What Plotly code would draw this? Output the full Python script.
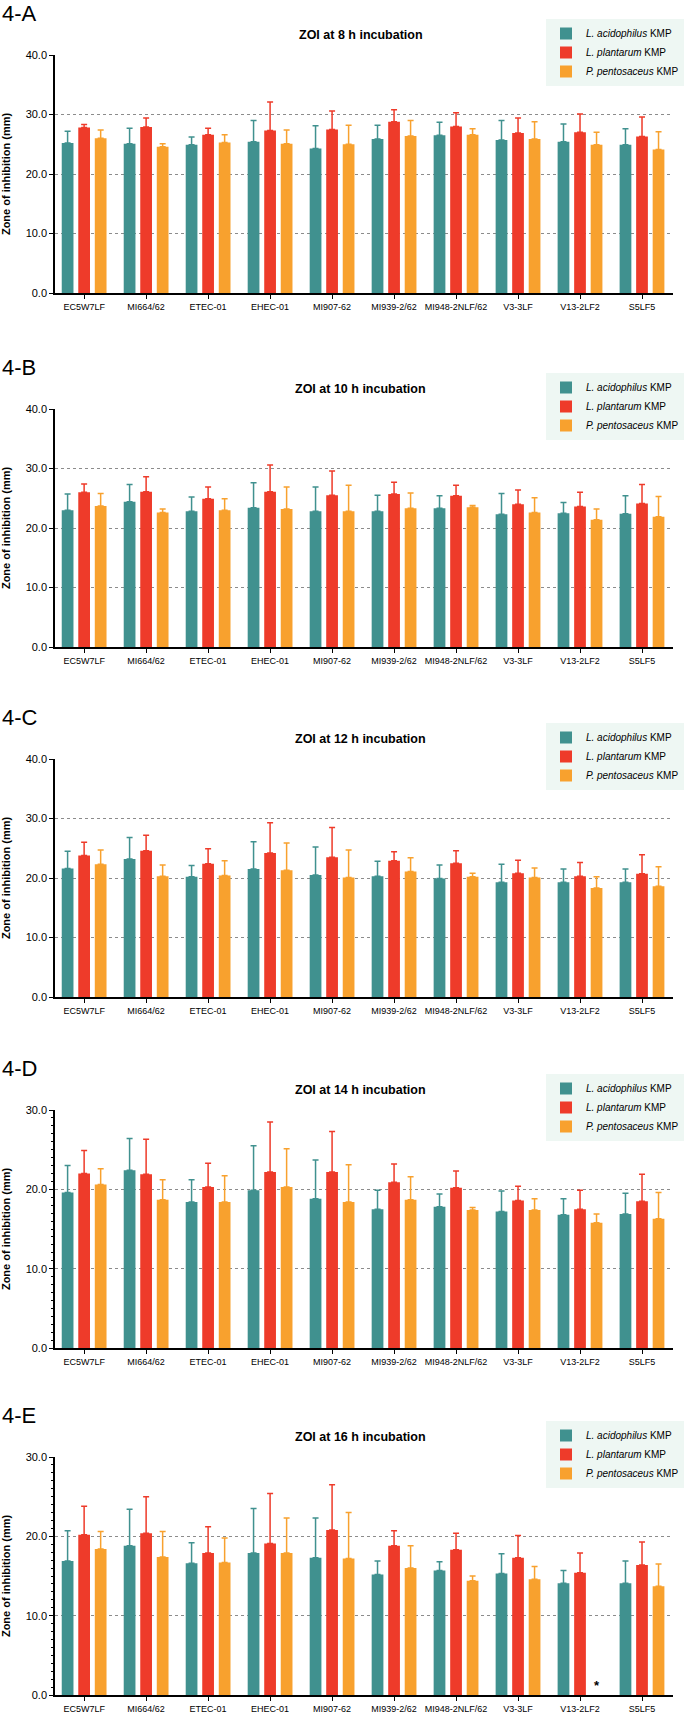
import plotly.graph_objects as go
from plotly.subplots import make_subplots

# ---------------- data ----------------
categories = ["EC5W7LF", "MI664/62", "ETEC-01", "EHEC-01", "MI907-62",
              "MI939-2/62", "MI948-2NLF/62", "V3-3LF", "V13-2LF2", "S5LF5"]
series_names = ["<i>L. acidophilus</i> KMP", "<i>L. plantarum</i> KMP", "<i>P. pentosaceus</i> KMP"]
panel_labels = ["4-A", "4-B", "4-C", "4-D", "4-E"]
panel_titles = ["ZOI at 8 h incubation", "ZOI at 10 h incubation", "ZOI at 12 h incubation",
                "ZOI at 14 h incubation", "ZOI at 16 h incubation"]
y_max = [40, 40, 40, 30, 30]
y_title = "Zone of inhibition (mm)"

# 8 h
acid_8 = [25.2, 25.1, 24.9, 25.4, 24.3, 25.9, 26.5, 25.7, 25.4, 24.9]
acid_8_sd = [2.0, 2.6, 1.3, 3.6, 3.8, 2.3, 2.2, 3.3, 3.0, 2.7]
plant_8 = [27.8, 27.9, 26.6, 27.3, 27.5, 28.8, 28.0, 26.9, 27.0, 26.3]
plant_8_sd = [0.5, 1.5, 1.1, 4.8, 3.1, 2.0, 2.3, 2.5, 3.1, 3.3]
pento_8 = [26.0, 24.6, 25.3, 25.1, 25.0, 26.4, 26.6, 25.9, 24.9, 24.1]
pento_8_sd = [1.4, 0.5, 1.3, 2.3, 3.2, 2.6, 1.0, 2.9, 2.1, 3.0]
# 10 h
acid_10 = [23.0, 24.4, 22.8, 23.4, 22.8, 22.8, 23.3, 22.3, 22.5, 22.4]
acid_10_sd = [2.7, 2.9, 2.4, 4.2, 4.1, 2.7, 2.1, 3.5, 1.8, 3.0]
plant_10 = [26.0, 26.1, 24.9, 26.1, 25.5, 25.7, 25.4, 24.0, 23.6, 24.1]
plant_10_sd = [1.4, 2.5, 2.0, 4.5, 4.1, 2.0, 1.8, 2.4, 2.4, 3.2]
pento_10 = [23.7, 22.6, 23.0, 23.2, 22.8, 23.3, 23.5, 22.6, 21.4, 21.9]
pento_10_sd = [2.1, 0.6, 1.9, 3.7, 4.4, 2.6, 0.3, 2.5, 1.8, 3.4]
# 12 h
acid_12 = [21.6, 23.2, 20.2, 21.5, 20.5, 20.3, 19.9, 19.3, 19.3, 19.3]
acid_12_sd = [2.9, 3.6, 1.9, 4.6, 4.7, 2.5, 2.3, 3.0, 2.2, 2.2]
plant_12 = [23.8, 24.6, 22.4, 24.2, 23.5, 22.9, 22.5, 20.8, 20.3, 20.7]
plant_12_sd = [2.2, 2.6, 2.5, 5.1, 5.0, 1.5, 2.1, 2.2, 2.3, 3.2]
pento_12 = [22.3, 20.3, 20.4, 21.3, 20.1, 21.1, 20.2, 20.1, 18.3, 18.6]
pento_12_sd = [2.4, 1.9, 2.5, 4.6, 4.6, 2.3, 0.6, 1.6, 1.9, 3.3]
# 14 h
acid_14 = [19.6, 22.4, 18.4, 19.9, 18.8, 17.5, 17.8, 17.2, 16.8, 16.9]
acid_14_sd = [3.4, 4.0, 2.8, 5.6, 4.9, 2.4, 1.6, 2.6, 2.0, 2.6]
plant_14 = [22.0, 21.9, 20.3, 22.2, 22.2, 20.9, 20.2, 18.6, 17.5, 18.5]
plant_14_sd = [2.9, 4.4, 3.0, 6.3, 5.1, 2.3, 2.1, 1.8, 2.4, 3.4]
pento_14 = [20.6, 18.7, 18.4, 20.3, 18.4, 18.7, 17.4, 17.4, 15.8, 16.3]
pento_14_sd = [2.0, 2.5, 3.3, 4.8, 4.7, 2.9, 0.3, 1.4, 1.1, 3.3]
# 16 h
acid_16 = [16.9, 18.8, 16.6, 17.9, 17.3, 15.2, 15.7, 15.3, 14.1, 14.1]
acid_16_sd = [3.8, 4.6, 2.6, 5.6, 5.0, 1.7, 1.1, 2.5, 1.6, 2.8]
plant_16 = [20.2, 20.4, 17.9, 19.1, 20.8, 18.8, 18.3, 17.3, 15.4, 16.4]
plant_16_sd = [3.6, 4.6, 3.3, 6.3, 5.7, 1.9, 2.1, 2.8, 2.5, 2.9]
pento_16 = [18.4, 17.4, 16.7, 17.9, 17.2, 16.0, 14.4, 14.6, None, 13.7]
pento_16_sd = [2.2, 3.2, 3.1, 4.4, 5.8, 2.8, 0.6, 1.6, None, 2.8]

no_zone_category = "V13-2LF2"   # P. pentosaceus: no zone at 16 h (*)

panels = [
    [(acid_8, acid_8_sd), (plant_8, plant_8_sd), (pento_8, pento_8_sd)],
    [(acid_10, acid_10_sd), (plant_10, plant_10_sd), (pento_10, pento_10_sd)],
    [(acid_12, acid_12_sd), (plant_12, plant_12_sd), (pento_12, pento_12_sd)],
    [(acid_14, acid_14_sd), (plant_14, plant_14_sd), (pento_14, pento_14_sd)],
    [(acid_16, acid_16_sd), (plant_16, plant_16_sd), (pento_16, pento_16_sd)],
]

# ---------------- style ----------------
colors = ["#40918F", "#EE3B2A", "#F8A12E"]
FONT = "Arial, Liberation Sans, sans-serif"
W, H = 685, 1715
plot_left, plot_right = 55, 673
plot_tops = [55, 409, 759, 1110, 1457]
plot_h = 238
bargap = 0.2
bargroupgap = 0.29

def py(px):
    return 1 - px / H

def pxx(px):
    return px / W

fig = make_subplots(rows=5, cols=1)

for i, panel in enumerate(panels):
    row = i + 1
    leg = "legend" if i == 0 else f"legend{i + 1}"
    for s, (vals, sds) in enumerate(panel):
        fig.add_trace(go.Bar(
            x=categories, y=vals, name=series_names[s],
            marker=dict(color=colors[s], line=dict(width=0)),
            error_y=dict(type="data", array=sds, symmetric=False,
                         arrayminus=[0] * len(sds),
                         color=colors[s], thickness=1.5, width=3),
            legend=leg, showlegend=True,
        ), row=row, col=1)

    top = plot_tops[i]
    xa = "xaxis" if i == 0 else f"xaxis{i + 1}"
    ya = "yaxis" if i == 0 else f"yaxis{i + 1}"
    fig.layout[xa].update(
        domain=[pxx(plot_left), pxx(plot_right)],
        type="category", range=[-0.47, 9.5],
        showline=True, linecolor="black", linewidth=1.5,
        ticks="outside", ticklen=4, tickwidth=1.2, tickcolor="black",
        tickfont=dict(family=FONT, size=9, color="black"),
        showgrid=False, zeroline=False, automargin=False,
    )
    yupd = dict(
        domain=[py(top + plot_h), py(top)],
        range=[0, y_max[i]], dtick=10, tick0=0, tickformat=".1f",
        showline=True, linecolor="black", linewidth=1.5,
        ticks="outside", ticklen=4, tickwidth=1.2, tickcolor="black",
        tickfont=dict(family=FONT, size=11, color="black"),
        showgrid=True, gridcolor="#8c8c8c", gridwidth=1, griddash="dot",
        zeroline=False, automargin=False,
        title=dict(text=y_title, font=dict(family=FONT, size=11, color="black", weight="bold"),
                   standoff=13),
    )
    if y_max[i] == 30:
        yupd["minor"] = dict(dtick=1, ticks="outside", ticklen=2.5, tickwidth=1,
                             tickcolor="black", showgrid=False)
    fig.layout[ya].update(**yupd)

    # panel title
    fig.add_annotation(text=f"<b>{panel_titles[i]}</b>", xref="paper", yref="paper",
                       x=pxx(361), y=py(top - 20),
                       xanchor="center", yanchor="middle", showarrow=False,
                       font=dict(family=FONT, size=12.5, color="black"))
    # panel label
    fig.add_annotation(text=panel_labels[i], xref="paper", yref="paper",
                       x=0, y=py(top - 42), xanchor="left", yanchor="middle",
                       showarrow=False, font=dict(family=FONT, size=22, color="black"))
    # legend
    fig.layout[leg] = dict(
        x=pxx(546), y=py(top - 36), xanchor="left", yanchor="top",
        bgcolor="#EEF7F3", borderwidth=0,
        font=dict(family=FONT, size=10, color="black"),
        tracegroupgap=0, itemwidth=30,
    )

# asterisk: no inhibition zone for P. pentosaceus at 16 h against V13-2LF2
slot = (1 - bargap) / 3
fig.add_annotation(text="<b>*</b>", xref="x5", yref="y5",
                   x=categories.index(no_zone_category) + slot, y=0,
                   xanchor="center", yanchor="bottom", yshift=0, showarrow=False,
                   font=dict(family=FONT, size=13, color="black"))

fig.update_layout(
    template="none",
    width=W, height=H,
    margin=dict(l=0, r=0, t=0, b=0),
    paper_bgcolor="white", plot_bgcolor="white",
    barmode="group", bargap=bargap, bargroupgap=bargroupgap,
    font=dict(family=FONT, color="black"),
)

fig.write_html("out.html", config={"displayModeBar": False},
               post_script="document.body.style.margin='0';document.body.style.padding='0';")
